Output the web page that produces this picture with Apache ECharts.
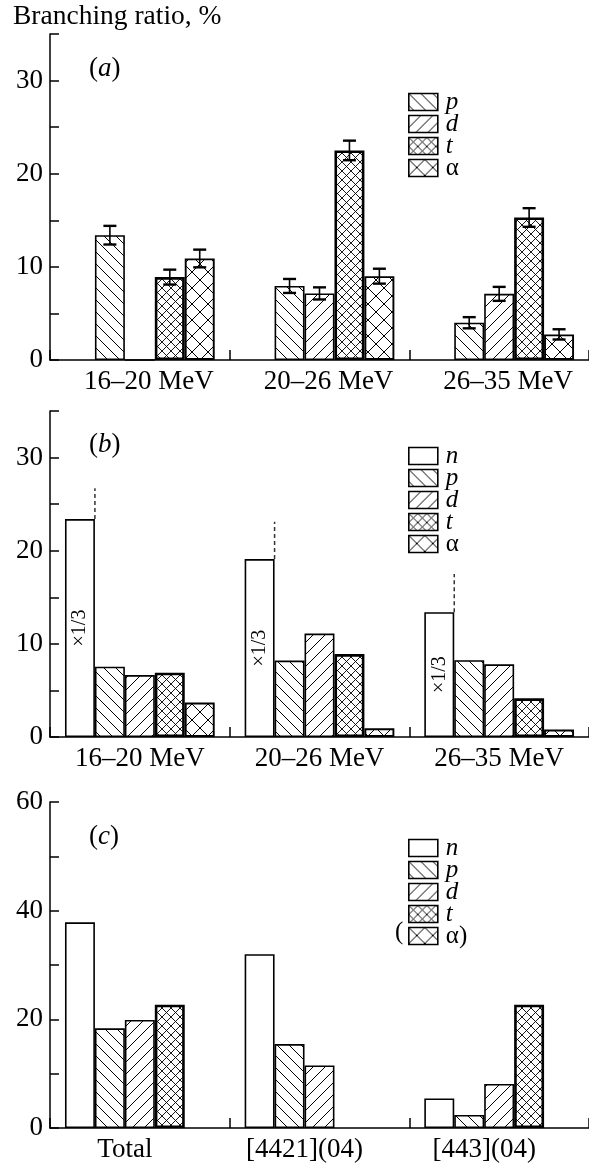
<!DOCTYPE html>
<html>
<head>
<meta charset="utf-8">
<script src="https://cdn.jsdelivr.net/npm/echarts@6/dist/echarts.min.js"></script>
<style>
  html, body { margin: 0; padding: 0; background: #fff; }
  #chart { width: 589px; height: 1163px; }
</style>
</head>
<body>
<div id="chart"></div>
<script>
// Categories
const energyBins = ['16–20 MeV', '20–26 MeV', '26–35 MeV'];
const configBins = ['Total', '[4421](04)', '[443](04)'];
const particles = ['n', 'p', 'd', 't', 'α'];

// (a) measured branching ratios, % (with uncertainties)
const aN = [null, null, null];
const aP = [13.4, 7.95, 4.0];
const aD = [0, 7.15, 7.1];
const aT = [8.9, 22.5, 15.3];
const aAlpha = [10.9, 9.0, 2.75];
const aPErr = [1.0, 0.75, 0.6];
const aDErr = [null, 0.65, 0.75];
const aTErr = [0.8, 1.05, 1.0];
const aAlphaErr = [0.95, 0.8, 0.55];

// (b) calculated branching ratios, %; the n column is drawn at 1/3 scale
const bN = [23.4, 19.1, 13.4];
const bNDashTop = [26.7, 23.1, 17.5];
const bP = [7.55, 8.2, 8.25];
const bD = [6.65, 11.1, 7.8];
const bT = [6.9, 8.9, 4.15];
const bAlpha = [3.7, 0.93, 0.8];

// (c) branching ratios by configuration, %
const cN = [37.85, 32.0, 5.45];
const cP = [18.35, 15.45, 2.4];
const cD = [19.9, 11.5, 8.1];
const cT = [22.7, null, 22.7];
const cAlpha = [null, null, null];

// Axis ranges
const yMaxAB = 35, yStepAB = 5, yLabelStepAB = 10;
const yMaxC = 60, yStepC = 10, yLabelStepC = 20;

const SERIF = '"Liberation Serif", "Times New Roman", serif';
const CAT_GAP = 0.1667;

// Hatch fills for the particle columns
function hatch(size, dirs, lw) {
  const c = document.createElement('canvas');
  c.width = size; c.height = size;
  const g = c.getContext('2d');
  g.fillStyle = '#fff';
  g.fillRect(0, 0, size, size);
  g.strokeStyle = '#000';
  g.lineWidth = lw;
  g.beginPath();
  if (dirs.indexOf('\\') >= 0) {
    g.moveTo(-1, -1); g.lineTo(size + 1, size + 1);
    g.moveTo(-2, size - 2); g.lineTo(2, size + 2);
    g.moveTo(size - 2, -2); g.lineTo(size + 2, 2);
  }
  if (dirs.indexOf('/') >= 0) {
    g.moveTo(-1, size + 1); g.lineTo(size + 1, -1);
    g.moveTo(-2, 2); g.lineTo(2, -2);
    g.moveTo(size - 2, size + 2); g.lineTo(size + 2, size - 2);
  }
  g.stroke();
  return { image: c, repeat: 'repeat' };
}

const styles = {
  'n': { color: '#fff', borderColor: '#000', borderWidth: 1.6 },
  'p': { color: hatch(12, '\\', 1), borderColor: '#000', borderWidth: 1.6 },
  'd': { color: hatch(12, '/', 1), borderColor: '#000', borderWidth: 1.6 },
  't': { color: hatch(9, '\\/', 0.9), borderColor: '#000', borderWidth: 2.6 },
  'α': { color: hatch(16, '\\/', 1), borderColor: '#000', borderWidth: 1.9 }
};

function bar(name, data, idx, extra) {
  return Object.assign({
    type: 'bar', name: name, data: data,
    xAxisIndex: idx, yAxisIndex: idx,
    barGap: '0%', barCategoryGap: (CAT_GAP * 100) + '%',
    itemStyle: styles[name],
    emphasis: { disabled: true },
    animation: false
  }, extra || {});
}

// x position of a column slot inside its category band
function slotX(api, cat, slot, edge) {
  const band = api.size([1, 0])[0];
  const groupW = band * (1 - CAT_GAP);
  const bw = groupW / particles.length;
  const cx = api.coord([cat, 0])[0];
  return cx - groupW / 2 + (slot + edge) * bw;
}

// Error bars for (a)
const errData = [];
[[aP, aPErr, 1], [aD, aDErr, 2], [aT, aTErr, 3], [aAlpha, aAlphaErr, 4]].forEach(function (s) {
  s[0].forEach(function (v, i) {
    if (v != null && s[1][i] != null) errData.push([i, s[2], v, s[1][i]]);
  });
});

const errorSeries = {
  type: 'custom', name: 'err', xAxisIndex: 0, yAxisIndex: 0, z: 5,
  data: errData, animation: false, silent: true,
  encode: { x: 0, y: 2 },
  renderItem: function (params, api) {
    const cat = api.value(0), slot = api.value(1), v = api.value(2), e = api.value(3);
    const x = slotX(api, cat, slot, 0.5);
    const yt = api.coord([cat, v + e])[1];
    const yb = api.coord([cat, v - e])[1];
    const h = 6.5;
    const ln = function (x1, y1, x2, y2, w) {
      return { type: 'line', shape: { x1: x1, y1: y1, x2: x2, y2: y2 }, style: { stroke: '#000', lineWidth: w } };
    };
    return { type: 'group', children: [
      ln(x, yt, x, yb, 1.6), ln(x - h, yt, x + h, yt, 2.4), ln(x - h, yb, x + h, yb, 2.4)
    ] };
  }
};

// Dashed continuation above the scaled n columns in (b)
const dashData = bN.map(function (v, i) { return [i, v, bNDashTop[i]]; });
const dashSeries = {
  type: 'custom', name: 'dash', xAxisIndex: 1, yAxisIndex: 1, z: 5,
  data: dashData, animation: false, silent: true,
  encode: { x: 0, y: 2 },
  renderItem: function (params, api) {
    const cat = api.value(0);
    const x = slotX(api, cat, 0, 1);
    const y1 = api.coord([cat, api.value(1)])[1];
    const y2 = api.coord([cat, api.value(2)])[1];
    return { type: 'line', shape: { x1: x, y1: y1, x2: x, y2: y2 },
      style: { stroke: '#333', lineWidth: 1.5, lineDash: [4, 3] } };
  }
};

// shift: horizontal offset of the category labels, px
function xAxis(idx, data, shift) {
  const pad = shift >= 0 ? [0, 0, 0, 2 * shift] : [0, -2 * shift, 0, 0];
  return {
    type: 'category', gridIndex: idx, data: data, boundaryGap: true,
    axisLine: { lineStyle: { color: '#000', width: 1.5 } },
    axisTick: { show: true, inside: true, length: 10, alignWithLabel: false, lineStyle: { color: '#000', width: 1.5 } },
    axisLabel: { color: '#000', fontFamily: SERIF, fontSize: 27, margin: 8, interval: 0, padding: pad },
    splitLine: { show: false }
  };
}
function yAxis(idx, max, step, labelStep) {
  return {
    type: 'value', gridIndex: idx, min: 0, max: max, interval: step,
    axisLine: { show: true, lineStyle: { color: '#000', width: 1.5 } },
    axisTick: { show: true, inside: true, length: 9, lineStyle: { color: '#000', width: 1.5 } },
    splitLine: { show: false },
    axisLabel: { color: '#000', fontFamily: SERIF, fontSize: 27, margin: 7,
      formatter: function (v) { return v % labelStep === 0 ? String(v) : ''; } }
  };
}

function legend(top, names, alphaText) {
  return {
    orient: 'vertical', left: 403, top: top, data: names,
    itemWidth: 29, itemHeight: 17, itemGap: -3, icon: 'rect',
    selectedMode: false,
    itemStyle: { borderColor: '#000', borderWidth: 1.6 },
    formatter: function (name) { return name === 'α' ? '{up|' + alphaText + '}' : '{it|' + name + '}'; },
    textStyle: {
      padding: [0, 0, 0, 3],
      rich: {
        it: { fontFamily: SERIF, fontStyle: 'italic', fontSize: 25, color: '#000' },
        up: { fontFamily: SERIF, fontSize: 25, color: '#000' }
      }
    }
  };
}

function panelTitle(letter, top) {
  return {
    text: '{r|(}{i|' + letter + '}{r|)}', left: 89, top: top, padding: 0,
    textStyle: { fontWeight: 'normal', rich: {
      r: { fontFamily: SERIF, fontSize: 27, fontWeight: 'normal', color: '#000' },
      i: { fontFamily: SERIF, fontSize: 27, fontStyle: 'italic', fontWeight: 'normal', color: '#000' }
    } }
  };
}

const chart = echarts.init(document.getElementById('chart'), null, { renderer: 'canvas' });

chart.setOption({
  backgroundColor: '#fff',
  animation: false,
  title: [
    { text: 'Branching ratio, %', left: 13, top: 3, padding: 0,
      textStyle: { fontFamily: SERIF, fontSize: 27.5, fontWeight: 'normal', color: '#000' } },
    panelTitle('a', 55),
    panelTitle('b', 431),
    panelTitle('c', 823)
  ],
  legend: [
    legend(84.5, ['p', 'd', 't', 'α'], 'α'),
    legend(438.5, particles, 'α'),
    legend(830.5, particles, 'α)')
  ],
  graphic: [
    { type: 'text', left: 395, top: 920, style: { text: '(', fontFamily: SERIF, fontSize: 25, fill: '#000' } }
  ],
  grid: [
    { left: 50, right: 0, top: 34, bottom: 803 },
    { left: 50, right: 0, top: 411, bottom: 426 },
    { left: 50, right: 0, top: 802, bottom: 35 }
  ],
  xAxis: [xAxis(0, energyBins, 9), xAxis(1, energyBins, 0), xAxis(2, configBins, -15)],
  yAxis: [
    yAxis(0, yMaxAB, yStepAB, yLabelStepAB),
    yAxis(1, yMaxAB, yStepAB, yLabelStepAB),
    yAxis(2, yMaxC, yStepC, yLabelStepC)
  ],
  series: [
    bar('n', aN, 0), bar('p', aP, 0), bar('d', aD, 0), bar('t', aT, 0), bar('α', aAlpha, 0),
    errorSeries,
    bar('n', bN, 1, { label: { show: true, position: 'inside', rotate: 90, formatter: '×1/3',
      fontFamily: SERIF, fontSize: 20, color: '#000' } }),
    bar('p', bP, 1), bar('d', bD, 1), bar('t', bT, 1), bar('α', bAlpha, 1),
    dashSeries,
    bar('n', cN, 2), bar('p', cP, 2), bar('d', cD, 2), bar('t', cT, 2), bar('α', cAlpha, 2)
  ]
});
</script>
</body>
</html>
